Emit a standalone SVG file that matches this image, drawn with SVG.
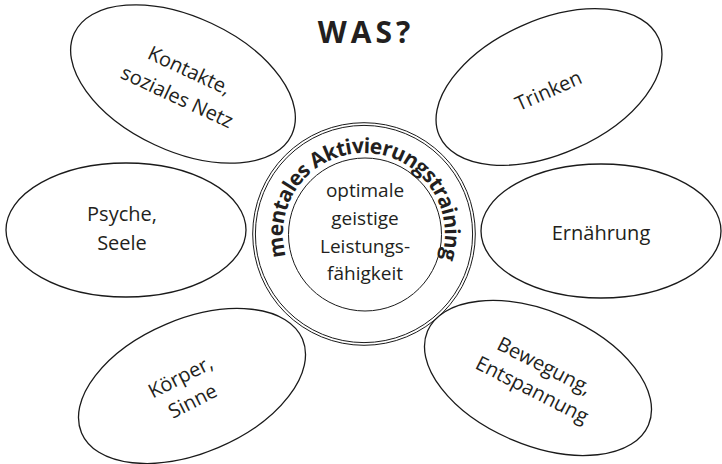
<svg xmlns="http://www.w3.org/2000/svg" width="722" height="464" viewBox="0 0 722 464">
<style>
.bg{fill:#ffffff}
.petal{fill:none;stroke:#1a1a1a;stroke-width:1.3}
.ring{fill:none;stroke:#1a1a1a;stroke-width:1}
.lbl{font-family:"Open Sans","Noto Sans","DejaVu Sans",sans-serif;font-size:20px;fill:#231f20;text-anchor:middle}
.core{font-family:"Open Sans","Noto Sans","DejaVu Sans",sans-serif;font-size:19px;fill:#231f20;text-anchor:middle}
.arc{font-family:"Open Sans","Noto Sans","DejaVu Sans",sans-serif;font-size:21px;font-weight:bold;fill:#231f20}
.title{font-family:"Open Sans","Noto Sans","DejaVu Sans",sans-serif;font-size:30px;font-weight:bold;fill:#231f20;text-anchor:middle;letter-spacing:4px}
</style>
<defs>
<path id="arcPath" d="M286.1,256.3 A81,81 0 1 1 441.0,259.0"/>
</defs>
<rect class="bg" x="0" y="0" width="722" height="464"/>
<g id="title"><text class="title" x="366" y="43">WAS?</text></g>
<g id="connectors"></g>
<g id="node-kontakte" transform="translate(183,84) rotate(25)">
<ellipse class="petal" cx="0" cy="0" rx="120" ry="67"/>
<text class="lbl" x="0" y="-8">Kontakte,</text>
<text class="lbl" x="0" y="21">soziales Netz</text>
</g>
<g id="node-trinken" transform="translate(549,87) rotate(-24)">
<ellipse class="petal" cx="0" cy="0" rx="120" ry="67"/>
<text class="lbl" x="-2" y="10">Trinken</text>
</g>
<g id="node-psyche" transform="translate(126,230)">
<ellipse class="petal" cx="0" cy="0" rx="120" ry="67"/>
<text class="lbl" x="-4" y="-9">Psyche,</text>
<text class="lbl" x="-4" y="20">Seele</text>
</g>
<g id="node-ernaehrung" transform="translate(601,231)">
<ellipse class="petal" cx="0" cy="0" rx="120" ry="67"/>
<text class="lbl" x="0" y="9">Ernährung</text>
</g>
<g id="node-koerper" transform="translate(192,386) rotate(-23)">
<ellipse class="petal" cx="0" cy="0" rx="120" ry="67"/>
<g transform="translate(-6,4) rotate(-4)">
<text class="lbl" x="0" y="-10">Körper,</text>
<text class="lbl" x="0" y="17">Sinne</text>
</g>
</g>
<g id="node-bewegung" transform="translate(538,378) rotate(23)">
<ellipse class="petal" cx="0" cy="0" rx="120" ry="67"/>
<g transform="rotate(4)">
<text class="lbl" x="0" y="-7">Bewegung,</text>
<text class="lbl" x="0" y="20">Entspannung</text>
</g>
</g>
<g id="node-center">
<circle class="ring" cx="364" cy="234" r="111.3"/>
<circle class="ring" cx="364" cy="234" r="108.6"/>
<circle class="ring" cx="365" cy="234.5" r="76.5"/>
<text class="arc"><textPath href="#arcPath" textLength="302" lengthAdjust="spacing">mentales Aktivierungstraining</textPath></text>
<text class="core"><tspan x="365" y="197">optimale</tspan><tspan x="365" y="225">geistige</tspan><tspan x="365" y="253">Leistungs-</tspan><tspan x="365" y="280">fähigkeit</tspan></text>
</g>
</svg>
